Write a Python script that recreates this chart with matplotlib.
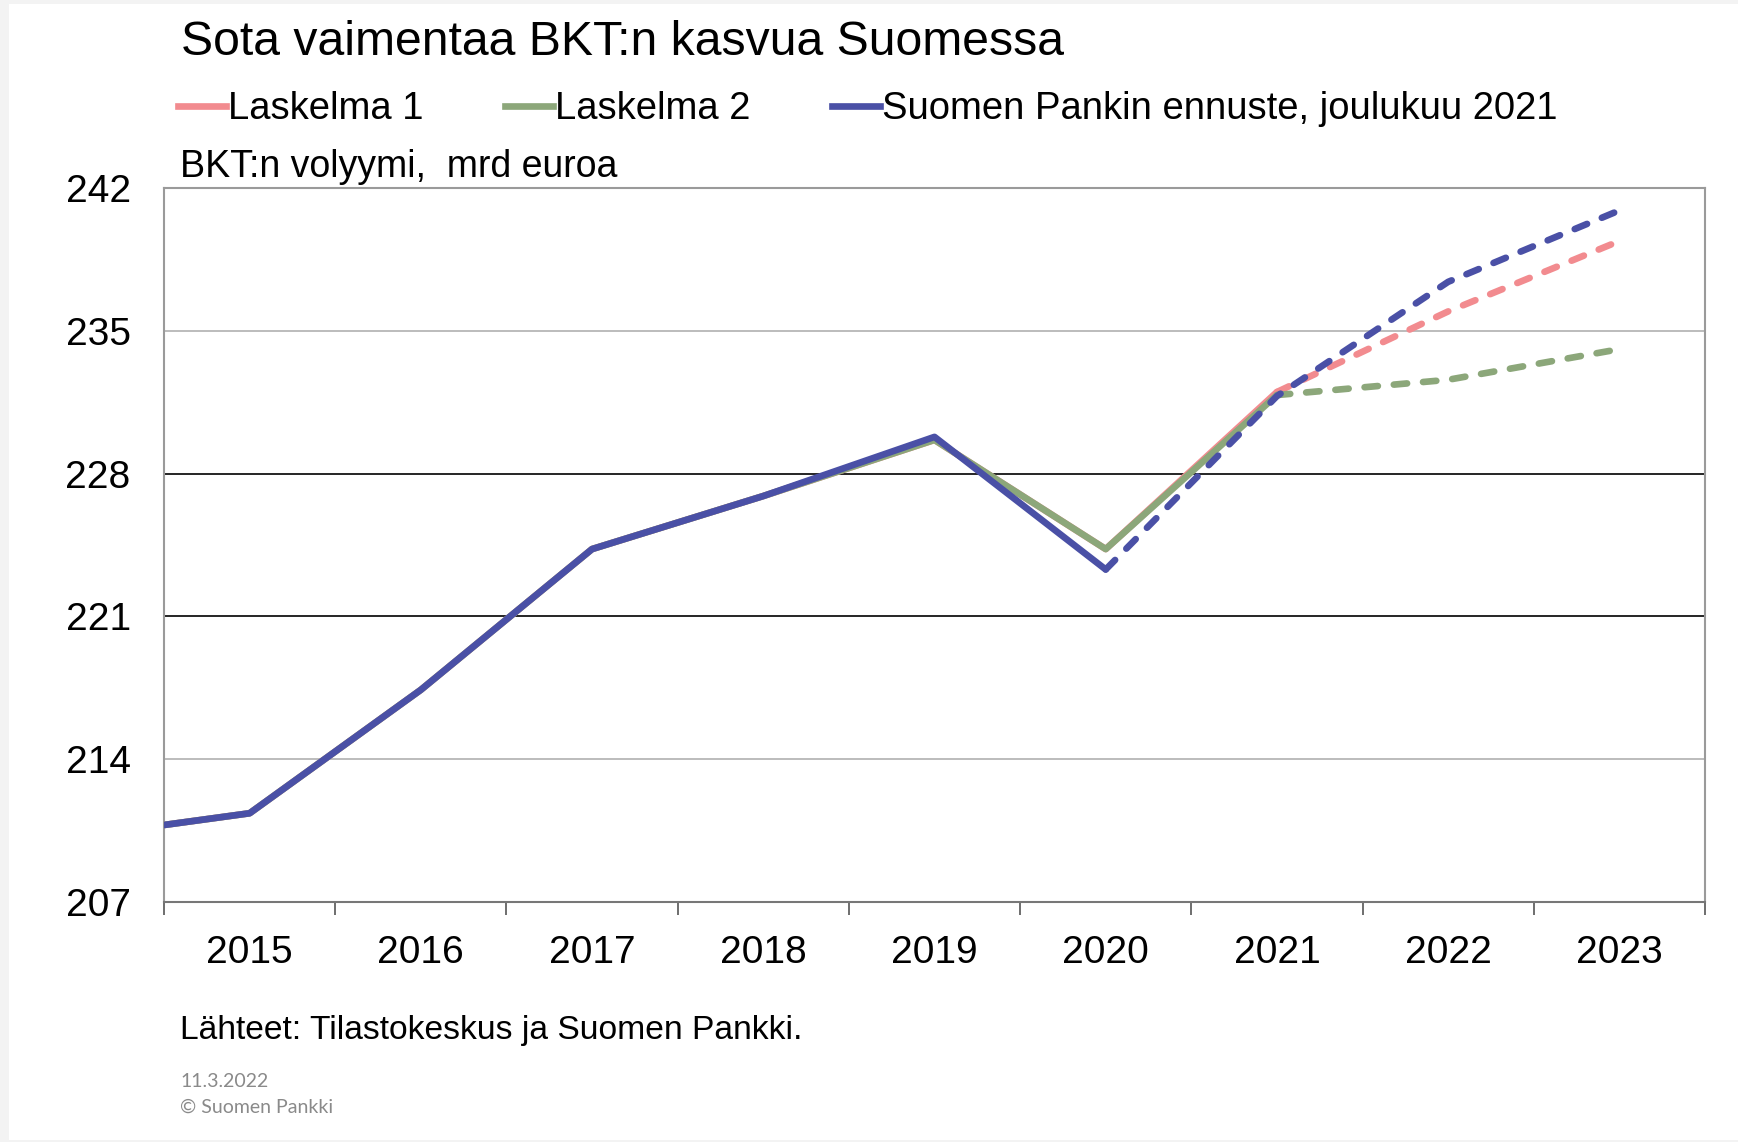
import matplotlib
matplotlib.use("Agg")
import matplotlib.pyplot as plt
from matplotlib.patches import Rectangle

plt.rcParams['font.family'] = ['Liberation Sans', 'DejaVu Sans']

# Vuodet ja sarjat (mrd euroa)
years = [2014, 2015, 2016, 2017, 2018, 2019, 2020, 2021, 2022, 2023]
year_labels = ['2015', '2016', '2017', '2018', '2019', '2020', '2021', '2022', '2023']

# Suomen Pankin ennuste, joulukuu 2021
sp_hist_years = [2014, 2015, 2016, 2017, 2018, 2019, 2020]
sp_hist = [210.2, 211.35, 217.4, 224.3, 226.9, 229.8, 223.3]
sp_fc_years = [2020, 2021, 2022, 2023]
sp_fc = [223.3, 231.8, 237.4, 240.9]

# Laskelma 2
l2_hist_years = [2014, 2015, 2016, 2017, 2018, 2019, 2020, 2021]
l2_hist = [210.2, 211.35, 217.4, 224.3, 226.9, 229.65, 224.3, 231.85]
l2_fc_years = [2021, 2022, 2023]
l2_fc = [231.85, 232.6, 234.1]

# Laskelma 1
l1_hist_years = [2014, 2015, 2016, 2017, 2018, 2019, 2020, 2021]
l1_hist = [210.2, 211.35, 217.4, 224.3, 226.9, 229.65, 224.3, 232.0]
l1_fc_years = [2021, 2022, 2023]
l1_fc = [232.0, 235.95, 239.4]

pink = '#F28B8F'
green = '#8CA77A'
blue = '#4A50A6'

W, H = 1738, 1142
fig = plt.figure(figsize=(W / 100, H / 100), dpi=100)
fig.patch.set_facecolor('#f3f3f3')
fig.patches.append(Rectangle((9 / W, 2 / H), 1, 1 - 6 / H, transform=fig.transFigure,
                             facecolor='white', edgecolor='none', zorder=-1))

ax = fig.add_axes([164 / W, (H - 902) / H, (1705 - 164) / W, (902 - 188) / H])
ax.set_zorder(1)
ax.set_facecolor('white')

lw = 4.8
dash = (2.0, 2.4)

ax.plot(l1_hist_years, l1_hist, color=pink, lw=lw, solid_capstyle='round', zorder=3)
ax.plot(l1_fc_years, l1_fc, color=pink, lw=lw, ls=(0, dash), dash_capstyle='round', zorder=3)
ax.plot(l2_hist_years, l2_hist, color=green, lw=lw, solid_capstyle='round', zorder=4)
ax.plot(l2_fc_years, l2_fc, color=green, lw=lw, ls=(0, dash), dash_capstyle='round', zorder=4)
ax.plot(sp_hist_years, sp_hist, color=blue, lw=lw, solid_capstyle='round', zorder=5)
ax.plot(sp_fc_years, sp_fc, color=blue, lw=lw, ls=(0, dash), dash_capstyle='round', zorder=5)

# vaakaviivat
grid_vals = [214, 221, 228, 235]
grid_cols = ['#b0b0b0', '#000000', '#000000', '#b0b0b0']
for v, c in zip(grid_vals, grid_cols):
    ax.axhline(v, color=c, lw=1.2, zorder=1)

ax.set_xlim(2014.5, 2023.5)
ax.set_ylim(207, 242)
ax.set_yticks([207, 214, 221, 228, 235, 242])
ax.tick_params(axis='y', length=0, pad=24, labelsize=28)

ax.set_xticks([y + 0.5 for y in years])
ax.set_xticklabels([])
ax.set_xticks(years[1:], minor=True)
ax.set_xticklabels(year_labels, minor=True)
ax.tick_params(axis='x', which='major', length=9, width=1.2, color='#555555', direction='out')
ax.tick_params(axis='x', which='minor', length=0, pad=24, labelsize=28)

for s in ['top', 'right', 'left']:
    ax.spines[s].set_color('#9a9a9a')
    ax.spines[s].set_linewidth(1.5)
ax.spines['bottom'].set_color('#777777')
ax.spines['bottom'].set_linewidth(1.5)

# tekstit
fig.text(181 / W, 1 - 55 / H, 'Sota vaimentaa BKT:n kasvua Suomessa', fontsize=34.7, va='baseline')
fig.text(180 / W, 1 - 177 / H, 'BKT:n volyymi,  mrd euroa', fontsize=27, va='baseline')
fig.text(180 / W, 1 - 1039 / H, 'Lähteet: Tilastokeskus ja Suomen Pankki.', fontsize=24.2, va='baseline')
fig.text(180 / W, 1 - 1087 / H, '11.3.2022', fontsize=14, color='#8a8a8a', va='baseline', family='Lato')
fig.text(180 / W, 1 - 1113 / H, '© Suomen Pankki', fontsize=14, color='#8a8a8a', va='baseline', family='Lato')

handles = [plt.Line2D([], [], color=c, lw=lw) for c in (pink, green, blue)]
labels = ['Laskelma 1', 'Laskelma 2', 'Suomen Pankin ennuste, joulukuu 2021']
fig.legend(handles, labels, loc='upper left', bbox_to_anchor=(178 / W, 1 - 91 / H),
           ncol=3, frameon=False, fontsize=27.5, handlelength=1.25, handletextpad=0.05,
           columnspacing=2.15, borderpad=0, borderaxespad=0)

fig.savefig('out.png', dpi=100, facecolor=fig.get_facecolor())
